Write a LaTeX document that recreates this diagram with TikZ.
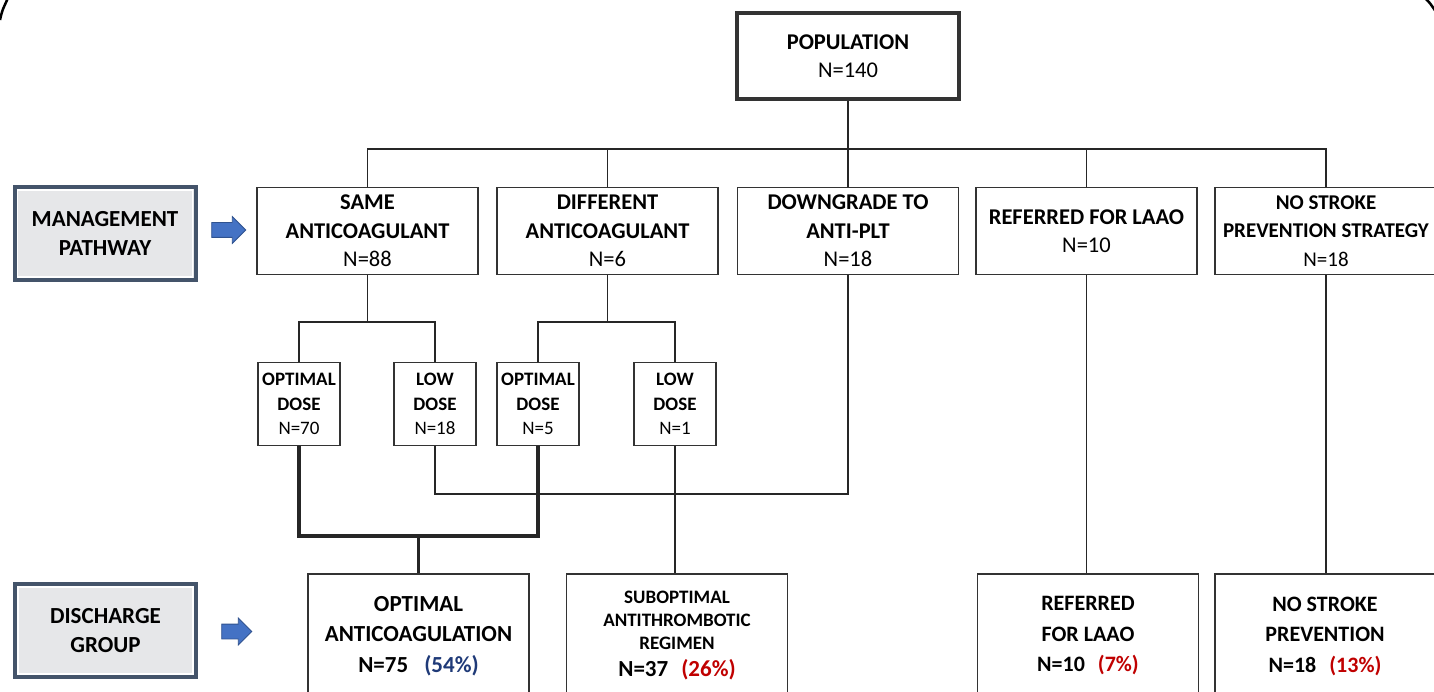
\documentclass[tikz,border=0pt]{standalone}
\usepackage{fontspec}
\setmainfont{Carlito}
\usetikzlibrary{shapes.arrows}

\definecolor{slate}{HTML}{44546A}
\definecolor{panel}{HTML}{E6E7E9}
\definecolor{arrowblue}{HTML}{4472C4}
\definecolor{arrowedge}{HTML}{2F528F}
\definecolor{pctblue}{HTML}{1F3A78}
\definecolor{pctred}{HTML}{C00000}
\definecolor{boxline}{HTML}{333333}

\begin{document}
\begin{tikzpicture}[x=1pt, y=-1pt,
    box/.style={draw=boxline, line width=1.5pt, fill=white, align=center,
        inner sep=1pt, font=\fontsize{22.5}{28.5}\selectfont},
    dosebox/.style={box, minimum width=82pt, minimum height=83pt,
        font=\fontsize{19}{24.5}\selectfont},
    outbox/.style={box, minimum width=221pt, minimum height=124pt},
    label/.style={draw=slate, line width=4pt, fill=panel, align=center,
        minimum width=181pt, minimum height=93pt,
        font=\fontsize{23}{28.5}\selectfont\bfseries,
        path picture={\draw[white, line width=1.2pt]
            ([shift={(3pt,-3pt)}]path picture bounding box.north west) rectangle
            ([shift={(-3pt,3pt)}]path picture bounding box.south east);}},
    blockarrow/.style={single arrow, draw=arrowedge, fill=arrowblue, line width=0.8pt,
        single arrow head extend=6pt, inner xsep=0pt, inner ysep=7pt},
    link/.style={draw=black!85, line width=1.5pt},
    thicklink/.style={draw=black!85, line width=3.5pt}]

    \useasboundingbox (0,0) rectangle (1434,692);

    % frame corners
    \draw[line width=2.5pt] (0,20) .. controls (2,11) .. (8,-2);
    \draw[line width=2.5pt] (1425,-2) .. controls (1430,3) .. (1436,12);

    % row labels
    \node[label] (mgmt) at (105,233.5) {MANAGEMENT\\PATHWAY};
    \node[label] (disch) at (105.5,630.5) {DISCHARGE\\GROUP};
    \node[blockarrow, minimum height=34pt] (arrA) at (225,230) {};
    \node[blockarrow, minimum height=30pt] (arrB) at (233,631.5) {};

    % top
    \node[box, line width=3.5pt, minimum width=222pt, minimum height=86pt] (pop) at (848,56)
        {\textbf{POPULATION}\\N=140};

    % management pathway
    \node[box, minimum width=221pt, minimum height=87pt] (same) at (367.5,231)
        {\textbf{SAME}\\\textbf{ANTICOAGULANT}\\N=88};
    \node[box, minimum width=221pt, minimum height=87pt] (diff) at (607.5,231)
        {\textbf{DIFFERENT}\\\textbf{ANTICOAGULANT}\\N=6};
    \node[box, minimum width=221pt, minimum height=87pt] (down) at (848,231)
        {\textbf{DOWNGRADE TO}\\\textbf{ANTI-PLT}\\N=18};
    \node[box, minimum width=221pt, minimum height=87pt] (laao) at (1086.5,231)
        {\textbf{REFERRED FOR LAAO}\\N=10};
    \node[box, minimum width=222pt, minimum height=87pt, font=\fontsize{21}{28.5}\selectfont] (nostroke) at (1326,231)
        {\textbf{NO STROKE}\\\textbf{PREVENTION STRATEGY}\\N=18};

    % doses
    \node[dosebox] (opt70) at (299,404) {\textbf{OPTIMAL}\\\textbf{DOSE}\\N=70};
    \node[dosebox] (low18) at (435,404) {\textbf{LOW}\\\textbf{DOSE}\\N=18};
    \node[dosebox] (opt5) at (538,404) {\textbf{OPTIMAL}\\\textbf{DOSE}\\N=5};
    \node[dosebox] (low1) at (675,404) {\textbf{LOW}\\\textbf{DOSE}\\N=1};

    % discharge group
    \node[outbox, font=\fontsize{23}{30.5}\selectfont\bfseries] (optac) at (418.5,636)
        {OPTIMAL\\ANTICOAGULATION\\N=75\hspace{16pt}\textcolor{pctblue}{(54\%)}};
    \node[outbox, font=\fontsize{19}{23}\selectfont\bfseries] (subopt) at (677,636)
        {SUBOPTIMAL\\ANTITHROMBOTIC\\REGIMEN\\[4pt]{\fontsize{23}{23}\selectfont N=37\hspace{13pt}\textcolor{pctred}{(26\%)}}};
    \node[outbox, font=\fontsize{22}{30.5}\selectfont\bfseries] (reflaao) at (1088,636)
        {REFERRED\\FOR LAAO\\N=10\hspace{13pt}\textcolor{pctred}{(7\%)}};
    \node[outbox, minimum width=220pt, font=\fontsize{22}{30.5}\selectfont\bfseries] (nostrokeb) at (1325,636)
        {NO STROKE\\PREVENTION\\N=18\hspace{13pt}\textcolor{pctred}{(13\%)}};

    \coordinate (bus) at (0,149);
    \coordinate (split) at (0,322);
    \coordinate (cross) at (0,494);
    \coordinate (merge) at (0,536);

    % population split
    \draw[link] (pop.south) -- (down.north);
    \draw[link] (same.north) -- (same.north |- bus) -- (nostroke.north |- bus) -- (nostroke.north);
    \draw[link] (diff.north) -- (diff.north |- bus);
    \draw[link] (laao.north) -- (laao.north |- bus);

    % dose split
    \draw[link] (same.south) -- (same.south |- split);
    \draw[link] (opt70.north) -- (opt70.north |- split) -- (low18.north |- split) -- (low18.north);
    \draw[link] (diff.south) -- (diff.south |- split);
    \draw[link] (opt5.north) -- (opt5.north |- split) -- (low1.north |- split) -- (low1.north);

    % discharge
    \draw[link] (low18.south) -- (low18.south |- cross) -- (down.south |- cross) -- (down.south);
    \draw[thicklink] (opt70.south) -- (opt70.south |- merge) -- (opt5.south |- merge) -- (opt5.south);
    \draw[thicklink] (optac.north) -- (optac.north |- merge);
    \draw[link] (low1.south) -- (low1.south |- subopt.north);
    \draw[link] (laao.south) -- (laao.south |- reflaao.north);
    \draw[link] (nostroke.south) -- (nostroke.south |- nostrokeb.north);
\end{tikzpicture}
\end{document}
